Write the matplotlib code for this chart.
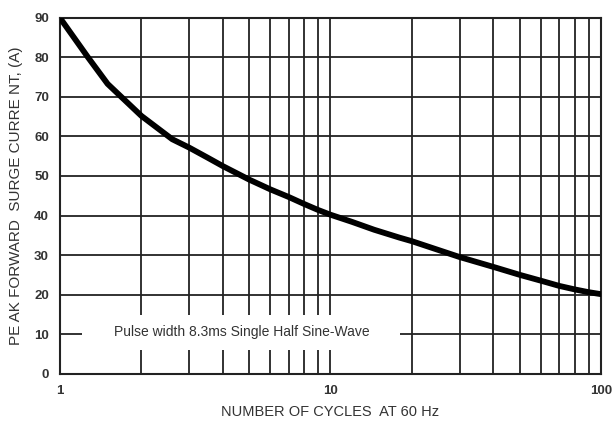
import matplotlib
matplotlib.use("Agg")
import matplotlib.pyplot as plt
from matplotlib.ticker import FixedLocator, NullFormatter

cycles = [1, 1.27, 1.5, 2, 2.6, 3, 3.5, 4, 5, 6, 7, 8, 9, 10, 12, 14.5, 18, 20,
          30, 40, 50, 60, 70, 80, 90, 100]
current = [90, 80, 73.3, 65.2, 59.3, 57.2, 54.7, 52.5, 49.1, 46.6, 44.7, 42.9, 41.4, 40.2,
           38.4, 36.4, 34.4, 33.5, 29.5, 27.0, 25.0, 23.5, 22.2, 21.3, 20.6, 20.1]

y_ticks = [0, 10, 20, 30, 40, 50, 60, 70, 80, 90]
x_major = [1, 10, 100]
x_labels = ["1", "10", "100"]
note = "Pulse width 8.3ms Single Half Sine-Wave"

plt.rcParams['font.family'] = ['Liberation Sans', 'DejaVu Sans']

fig = plt.figure(figsize=(6.12, 4.26), dpi=100)
ax = fig.add_axes([0.098, 0.123, 0.884, 0.835])
ax.set_xscale('log')
ax.set_xlim(1, 100)
ax.set_ylim(0, 90)

minor = [m * d for d in (1, 10) for m in range(2, 10)]
ax.xaxis.set_major_locator(FixedLocator(x_major))
ax.xaxis.set_minor_locator(FixedLocator(minor))
ax.xaxis.set_minor_formatter(NullFormatter())
ax.set_xticks(x_major)
ax.set_xticklabels(x_labels)
ax.set_yticks(y_ticks)

ax.grid(True, which='both', axis='x', color='#222222', linewidth=1.3, zorder=1)
ax.grid(True, which='major', axis='y', color='#222222', linewidth=1.3, zorder=1)
ax.tick_params(which='both', length=0, labelsize=9.5, pad=8)
for lab in ax.get_xticklabels() + ax.get_yticklabels():
    lab.set_fontweight('bold')
    lab.set_color('#333333')
for s in ax.spines.values():
    s.set_linewidth(1.5)
    s.set_color('#222222')

ax.plot(cycles, current, color='black', linewidth=4.2, solid_capstyle='round',
        solid_joinstyle='round', zorder=4)

# white box behind annotation
ax.fill_between([1.206, 18.1], 5.9, 14.8, color='white', zorder=2, linewidth=0)
ax.text(4.7, 10.4, note, fontsize=10, ha='center', va='center', color='#333333', zorder=3)

ax.set_xlabel('NUMBER OF CYCLES  AT 60 Hz', fontsize=10.5, color='#333333', labelpad=6)
ax.set_ylabel('PE AK FORWARD  SURGE CURRE NT, (A)', fontsize=11, color='#333333', labelpad=8)

fig.savefig('out.png', dpi=100)
